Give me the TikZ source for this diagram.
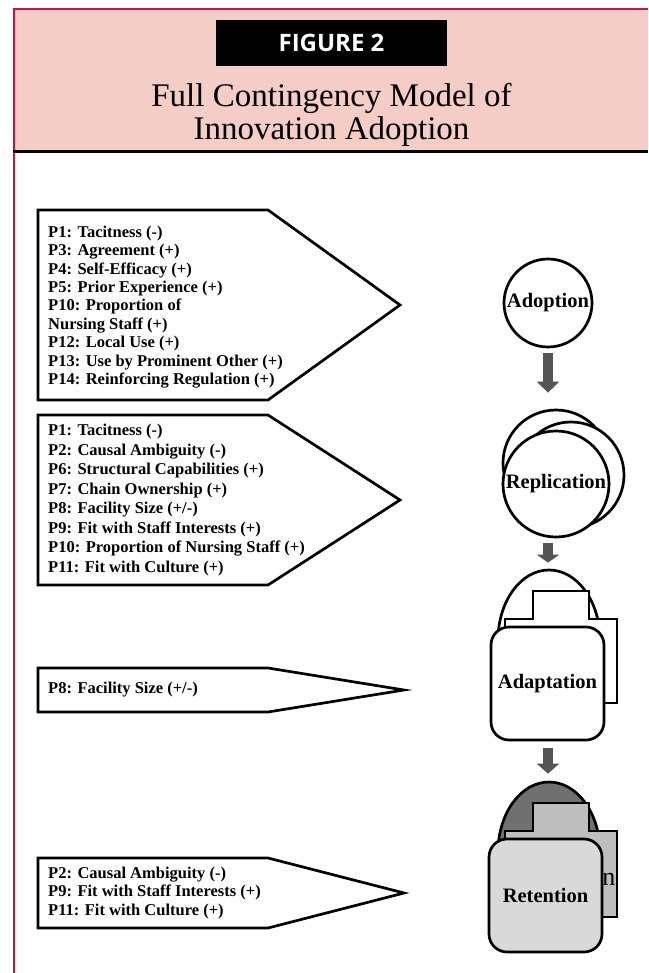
\documentclass[tikz,border=0pt]{standalone}
\usepackage{fontspec}
\setmainfont{Liberation Serif}
\newfontfamily\figfont{Open Sans}
\usetikzlibrary{arrows.meta,positioning}
\definecolor{framered}{RGB}{204,18,60}
\definecolor{headpink}{RGB}{244,205,198}
\definecolor{arrgray}{RGB}{85,85,85}
\definecolor{domegray}{RGB}{112,112,112}
\definecolor{tabgray}{RGB}{190,190,190}
\definecolor{cardgray}{RGB}{217,217,217}

\begin{document}
\begin{tikzpicture}[x=1pt, y=-1pt,
  propbox/.style={draw, line width=2.7pt, fill=white, line join=miter},
  proptext/.style={anchor=west, align=left, inner sep=0pt,
                   font=\fontsize{16.5}{#1}\selectfont\bfseries},
  proptext/.default=18.5,
  stage/.style={draw, line width=2.7pt, fill=white, inner sep=0pt,
                font=\fontsize{20.5}{24}\selectfont\bfseries},
  stagebk/.style={draw, line width=2.7pt, fill=white, line join=miter},
  card/.style={stage, rounded corners=18pt, minimum width=113pt, minimum height=113pt},
  flow/.style={arrgray, line width=10pt, -{Triangle[width=22pt, length=#1]}},
  flow/.default=11pt]
\useasboundingbox (0,0) rectangle (648,973);

% header
\fill[headpink] (15,10) rectangle (648,150);
\draw[framered, line width=2.6pt] (14,973) -- (14,9) -- (648,9);
\draw[line width=3pt] (13,151.5) -- (648,151.5);
\node[fill=black, text=white, minimum width=231pt, minimum height=46pt,
      font=\figfont\fontsize{24}{24}\selectfont\bfseries] (figno) at (331.5,43) {FIGURE 2};
\node[anchor=north, align=center, inner sep=0pt, font=\fontsize{33}{33}\selectfont]
  (title) at (331.5,83.5) {Full Contingency Model of\\Innovation Adoption};

% propositions
\draw[propbox] (38,210) -- (268,210) -- (400,305) -- (268,400) -- (38,400) -- cycle;
\node[proptext=18.4] (adoptprop) at (48,307) {P1: Tacitness (-)\\P3: Agreement (+)\\
  P4: Self-Efficacy (+)\\P5: Prior Experience (+)\\P10: Proportion of\\
  Nursing Staff (+)\\P12: Local Use (+)\\P13: Use by Prominent Other (+)\\
  P14: Reinforcing Regulation (+)};
\draw[propbox] (38,415) -- (268,415) -- (400,500) -- (268,585) -- (38,585) -- cycle;
\node[proptext=19.5] (replprop) at (48,500) {P1: Tacitness (-)\\P2: Causal Ambiguity (-)\\
  P6: Structural Capabilities (+)\\P7: Chain Ownership (+)\\P8: Facility Size (+/-)\\
  P9: Fit with Staff Interests (+)\\P10: Proportion of Nursing Staff (+)\\
  P11: Fit with Culture (+)};
\draw[propbox] (38,668) -- (268,668) -- (404,690) -- (268,712) -- (38,712) -- cycle;
\node[proptext] (adaptprop) at (48,690) {P8: Facility Size (+/-)};
\draw[propbox] (38,858) -- (268,858) -- (404,893) -- (268,928) -- (38,928) -- cycle;
\node[proptext] (retentprop) at (48,893) {P2: Causal Ambiguity (-)\\
  P9: Fit with Staff Interests (+)\\P11: Fit with Culture (+)};

% stages
\node[stage, circle, minimum size=88pt] (adopt) at (548,303) {Adoption};

\draw[stagebk] (556,463) circle[radius=53];
\draw[stagebk] (571,475) circle[radius=53];
\node[stage, circle, minimum size=106pt] (repl) at (556,484) {Replication};

\draw[stagebk] (549,640) ellipse[x radius=51, y radius=70];
\draw[stagebk] (505,703) -- (505,619) -- (533,619) -- (533,591) -- (589,591)
  -- (589,619) -- (617,619) -- (617,703) -- cycle;
\node[card] (adapt) at (547.5,683.5) {Adaptation};

\draw[stagebk, fill=domegray] (549,852) ellipse[x radius=51, y radius=70];
\draw[stagebk, fill=tabgray] (505,917) -- (505,831) -- (533,831) -- (533,803) -- (589,803)
  -- (589,831) -- (617,831) -- (617,917) -- cycle;
\node[anchor=base east, inner sep=0pt, font=\fontsize{26}{26}\selectfont]
  (retentbk) at (615.5,885) {n};
\node[card, fill=cardgray] (retent) at (545.5,895.5) {Retention};

% flow arrows
\draw[flow, shorten <=5pt, shorten >=37pt] (adopt.south) -- (adopt.south |- repl.north);
\draw[flow=8pt, shorten <=5pt, shorten >=63pt] (adopt.south |- repl.south) -- (adopt.south |- adapt.north);
\draw[flow=10pt, shorten <=7pt, shorten >=64pt] (adopt.south |- adapt.south) -- (adopt.south |- retent.north);
\end{tikzpicture}
\end{document}
